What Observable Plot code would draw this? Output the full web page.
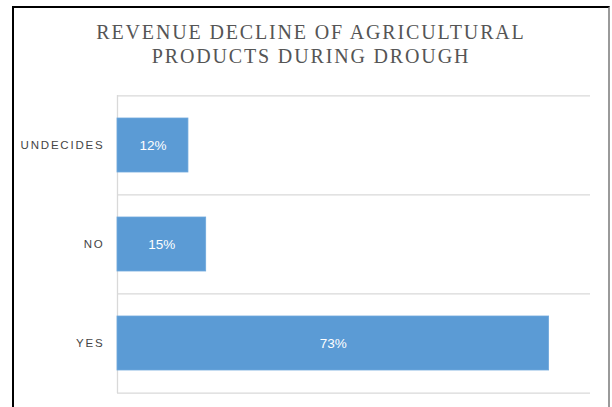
<!DOCTYPE html>
<html>
<head>
<meta charset="utf-8">
<script src="https://cdn.jsdelivr.net/npm/d3@7"></script>
<script src="https://cdn.jsdelivr.net/npm/@observablehq/plot@0.6"></script>
<style>
  html, body { margin: 0; padding: 0; background: #fff; }
  #frame {
    position: absolute; left: 12px; top: 6px; width: 594px; height: 420px;
    border-left: 2px solid #000; border-top: 2px solid #000; border-right: 2px solid #9a9a9a;
    background: #fff;
  }
  #title {
    padding-top: 12px; text-align: center; color: #555;
    font-family: "Liberation Serif", "DejaVu Serif", serif; font-size: 20px; line-height: 24px;
    letter-spacing: 1.85px;
  }
  #chart svg g[aria-label="y-axis"] text,
  #chart svg g[aria-label="y-axis tick label"] text { letter-spacing: 1.8px; }
</style>
</head>
<body>
<div id="frame">
  <div id="title">REVENUE DECLINE OF AGRICULTURAL<br>PRODUCTS DURING DROUGH</div>
  <div id="chart"></div>
</div>
<script>
const categories = ["UNDECIDES", "NO", "YES"];
const values = [12, 15, 73];
const valueLabels = ["12%", "15%", "73%"];
const xDomain = [0, 80];

const data = categories.map((c, i) => ({category: c, value: values[i], label: valueLabels[i]}));

const W = 594, H = 339, mT = 27, mB = 14, mL = 103, mR = 18;
const step = (H - mT - mB) / categories.length;
const grid = "#d9d9d9";

const chart = Plot.plot({
  width: W, height: H,
  marginTop: mT, marginBottom: mB, marginLeft: mL, marginRight: mR,
  style: {fontFamily: "'Liberation Sans', Arial, sans-serif", fontSize: "11.5px", color: "#454545", background: "#fff"},
  x: {domain: xDomain, axis: null},
  y: {domain: categories, label: null, tickSize: 0, tickPadding: 13, paddingInner: 0.455, paddingOuter: 0.2275},
  marks: [
    Plot.ruleY(categories, {dy: -step / 2, stroke: grid, strokeWidth: 1.3}),
    Plot.ruleY(categories.slice(-1), {dy: step / 2, stroke: grid, strokeWidth: 1.3}),
    Plot.ruleX([0], {stroke: grid, strokeWidth: 1.3}),
    Plot.barX(data, {x: "value", y: "category", fill: "#5b9bd5", stroke: "#6fa8dc", strokeWidth: 0.8}),
    Plot.text(data, Plot.stackX({x: "value", y: "category", text: "label", fill: "#fff",
      fontSize: 13.5, fontFamily: "'Liberation Sans Narrow', 'Liberation Sans', sans-serif"}))
  ]
});
document.getElementById("chart").appendChild(chart);
</script>
</body>
</html>
